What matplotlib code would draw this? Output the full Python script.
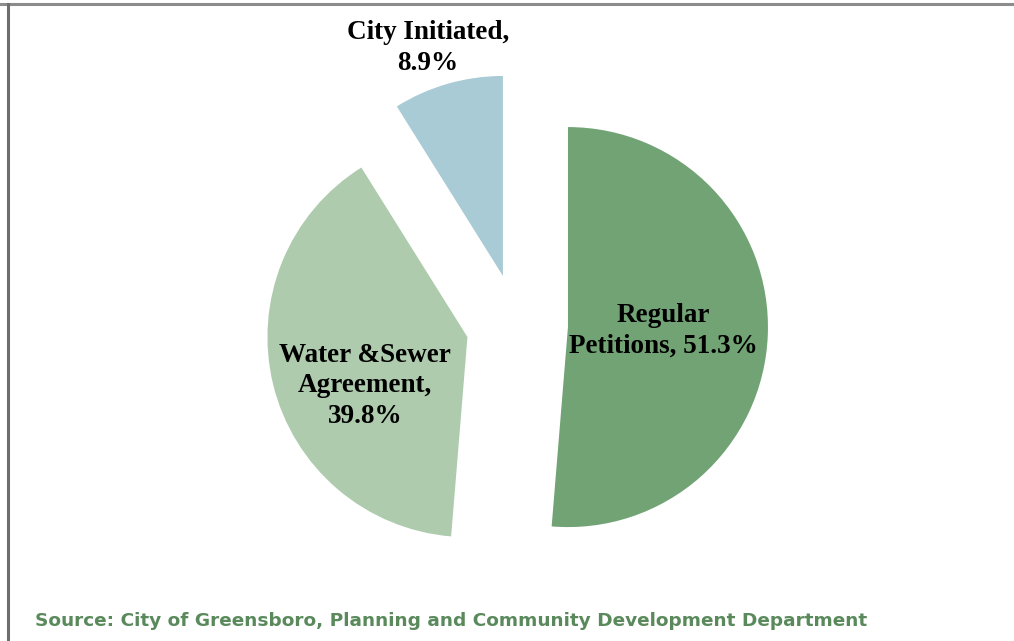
import matplotlib.pyplot as plt
from matplotlib.lines import Line2D

categories = ["Regular\nPetitions, 51.3%", "Water &Sewer\nAgreement,\n39.8%", "City Initiated,\n8.9%"]
shares = [51.3, 39.8, 8.9]
colors = ["#71a375", "#aecbae", "#a8cbd5"]
source = "Source: City of Greensboro, Planning and Community Development Department"

W, H = 1014, 641
fig = plt.figure(figsize=(W / 100, H / 100), dpi=100)
ax = fig.add_axes([0, 0, 1, 1])

wedges, _ = ax.pie(shares, colors=colors, startangle=90, counterclock=False,
                   radius=200, center=(517, H - 325),
                   explode=[51, 51, 51], frame=True)
ax.set_xlim(0, W)
ax.set_ylim(0, H)
ax.set_aspect("equal")
ax.axis("off")

label_pos = [(663, H - 331), (365, H - 386), (428, H - 48)]
for txt, (x, y) in zip(categories, label_pos):
    ax.text(x, y, txt, ha="center", va="center", fontsize=19.5, fontweight="bold",
            family="Liberation Serif", linespacing=1.27)

ax.text(35, H - 621, source, ha="left", va="center", fontsize=13.3,
        fontweight="bold", family="DejaVu Sans", color="#5a8a5c")

# frame lines (top and left)
fig.add_artist(Line2D([0, 1], [1 - 4 / H, 1 - 4 / H], color="#8c8c8c", lw=2.2))
fig.add_artist(Line2D([8 / W, 8 / W], [0, 1 - 4 / H], color="#6e6e6e", lw=2.2))

fig.savefig("out.png", dpi=100)
